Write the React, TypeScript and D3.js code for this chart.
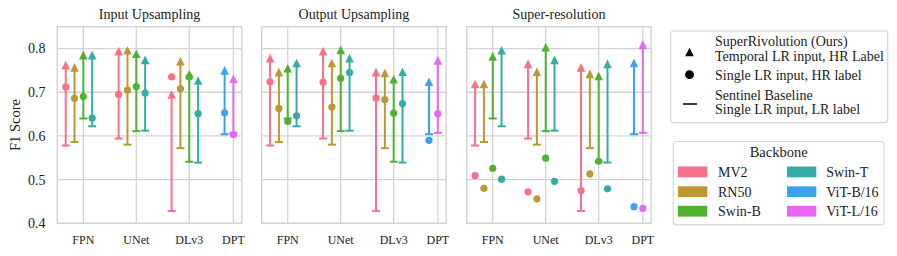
import React from "react";
import * as d3 from "d3";

const categories = ["FPN", "UNet", "DLv3", "DPT"];
const backbones = ["MV2", "RN50", "Swin-B", "Swin-T", "ViT-B/16", "ViT-L/16"];
const backboneColors = ["#f77189", "#bb9832", "#50b131", "#36ada4", "#3ba3ec", "#e866f4"];
const panelTitles = ["Input Upsampling", "Output Upsampling", "Super-resolution"];
const yTicks = [0.4, 0.5, 0.6, 0.7, 0.8];

// item order: FPN (MV2,RN50,Swin-B,Swin-T), UNet (...), DLv3 (...), DPT (ViT-B/16, ViT-L/16)
const itemCategory = [0, 0, 0, 0, 1, 1, 1, 1, 2, 2, 2, 2, 3, 3];
const itemBackbone = [0, 1, 2, 3, 0, 1, 2, 3, 0, 1, 2, 3, 4, 5];

const sentinelBaseline = [0.578, 0.586, 0.64, 0.622, 0.594, 0.58, 0.611, 0.612, 0.428, 0.572, 0.541, 0.539, 0.604, 0.607];

const inputTemporal = [0.762, 0.757, 0.785, 0.785, 0.794, 0.796, 0.788, 0.774, 0.695, 0.771, 0.741, 0.727, 0.75, 0.731];
const inputSingle = [0.712, 0.686, 0.69, 0.641, 0.695, 0.705, 0.713, 0.698, 0.735, 0.708, 0.735, 0.651, 0.653, 0.603];

const outputTemporal = [0.778, 0.746, 0.755, 0.767, 0.794, 0.767, 0.797, 0.778, 0.746, 0.744, 0.73, 0.747, 0.724, 0.773];
const outputSingle = [0.724, 0.663, 0.633, 0.646, 0.723, 0.666, 0.732, 0.745, 0.687, 0.683, 0.652, 0.674, 0.59, 0.651];

const srTemporal = [0.719, 0.719, 0.782, 0.796, 0.765, 0.747, 0.803, 0.774, 0.757, 0.742, 0.737, 0.765, 0.767, 0.809];
const srSingle = [0.509, 0.48, 0.526, 0.501, 0.472, 0.456, 0.549, 0.496, 0.475, 0.513, 0.542, 0.479, 0.438, 0.434];

const panelTemporal = [inputTemporal, outputTemporal, srTemporal];
const panelSingle = [inputSingle, outputSingle, srSingle];

const FONT = "Liberation Serif, Times New Roman, serif";
const GRID = "#d4d4d4";
const TXT = "#222";

const panelLefts = [57.3, 261.7, 466.7];
const panelWidth = 184.5;
const plotTop = 26.7;
const plotBottom = 223.3;

function itemsPerCategory(k: number) {
  return itemCategory.filter((c) => c === k).length;
}

function itemSlot(i: number) {
  const k = itemCategory[i];
  let j = 0;
  for (let t = 0; t < i; t++) if (itemCategory[t] === k) j++;
  return k * 6 + j;
}

const tri = (cx: number, cy: number, s: number) =>
  `M${cx},${cy - s / 2}L${cx - s / 2},${cy + s / 2}L${cx + s / 2},${cy + s / 2}Z`;

function T(props: any) {
  const { size, children, ...rest } = props;
  return (
    <text fontFamily={FONT} style={{ fontFamily: FONT }} fontSize={size} fill={TXT} {...rest}>
      {children}
    </text>
  );
}

function Panel({ p }: { p: number }) {
  const left = panelLefts[p];
  const x = d3.scaleLinear().domain([-0.95, 19.95]).range([left, left + panelWidth]);
  const y = d3.scaleLinear().domain([0.4, 0.85]).range([plotBottom, plotTop]);
  const temporal = panelTemporal[p];
  const single = panelSingle[p];
  const catTicks = categories.map((c, k) => k * 6 + itemsPerCategory(k) / 2);
  return (
    <g>
      {yTicks.map((t) => (
        <line key={"h" + t} x1={left} x2={left + panelWidth} y1={y(t)} y2={y(t)} stroke={GRID} strokeWidth={1.3} />
      ))}
      {catTicks.map((t, k) => (
        <line key={"v" + k} x1={x(t)} x2={x(t)} y1={plotTop} y2={plotBottom} stroke={GRID} strokeWidth={1.3} />
      ))}
      <rect x={left} y={plotTop} width={panelWidth} height={plotBottom - plotTop} fill="none" stroke={GRID} strokeWidth={1.5} />
      {itemCategory.map((_, i) => {
        const cx = x(itemSlot(i));
        const col = backboneColors[itemBackbone[i]];
        return (
          <g key={"l" + i}>
            <line x1={cx} x2={cx} y1={y(sentinelBaseline[i])} y2={y(temporal[i])} stroke={col} strokeWidth={2} />
            <line x1={cx - 4} x2={cx + 4} y1={y(sentinelBaseline[i])} y2={y(sentinelBaseline[i])} stroke={col} strokeWidth={2} />
          </g>
        );
      })}
      {itemCategory.map((_, i) => {
        const cx = x(itemSlot(i));
        const col = backboneColors[itemBackbone[i]];
        return (
          <g key={"m" + i}>
            <circle cx={cx} cy={y(single[i])} r={3.6} fill={col} />
            <path d={tri(cx, y(temporal[i]), 8.6)} fill={col} />
          </g>
        );
      })}
      {categories.map((c, k) => (
        <T key={"xt" + k} x={x(catTicks[k])} y={244} textAnchor="middle" size={12}>
          {c}
        </T>
      ))}
      <T x={left + panelWidth / 2} y={19} textAnchor="middle" size={14}>
        {panelTitles[p]}
      </T>
      {p === 0 &&
        yTicks.map((t) => (
          <T key={"yt" + t} x={45.5} y={y(t)} dy="0.35em" textAnchor="end" size={14}>
            {t.toFixed(1)}
          </T>
        ))}
      {p === 0 && (
        <T transform="translate(20,125) rotate(-90)" textAnchor="middle" size={14.5}>
          F1 Score
        </T>
      )}
    </g>
  );
}

function MarkerLegend() {
  const tx = 715;
  const s = 14;
  return (
    <g>
      <rect x={670.7} y={31} width={217} height={91.7} rx={3} fill="white" stroke="#d6d6d6" strokeWidth={1.2} />
      <path d={tri(689.5, 52, 8.6)} fill="#000" />
      <T x={tx} y={46.3} size={s}>SuperRivolution (Ours)</T>
      <T x={tx} y={60.5} size={s}>Temporal LR input, HR Label</T>
      <circle cx={689.5} cy={74.7} r={4.4} fill="#000" />
      <T x={tx} y={79.7} size={s}>Single LR input, HR label</T>
      <line x1={683} x2={697} y1={104} y2={104} stroke="#000" strokeWidth={1.5} />
      <T x={tx} y={99.7} size={s}>Sentinel Baseline</T>
      <T x={tx} y={114} size={s}>Single LR input, LR label</T>
    </g>
  );
}

function BackboneLegend() {
  const rowY = [166.5, 186.3, 205.8];
  const colPatchX = [678, 787];
  const colTextX = [718, 826.3];
  return (
    <g>
      <rect x={673.3} y={141.5} width={210.7} height={83.3} rx={3} fill="white" stroke="#d6d6d6" strokeWidth={1.2} />
      <T x={778.7} y={157} textAnchor="middle" size={14.5}>Backbone</T>
      {backbones.map((b, i) => {
        const col = Math.floor(i / 3);
        const row = i % 3;
        return (
          <g key={b}>
            <rect x={colPatchX[col]} y={rowY[row]} width={29.3} height={10.8} fill={backboneColors[i]} />
            <T x={colTextX[col]} y={rowY[row] + 10.2} size={14}>{b}</T>
          </g>
        );
      })}
    </g>
  );
}

export default function App() {
  return (
    <svg width={897} height={256} style={{ position: "absolute", left: 0, top: 0, background: "white" }}>
      <rect width={897} height={256} fill="white" />
      {[0, 1, 2].map((p) => (
        <Panel key={p} p={p} />
      ))}
      <MarkerLegend />
      <BackboneLegend />
    </svg>
  );
}
